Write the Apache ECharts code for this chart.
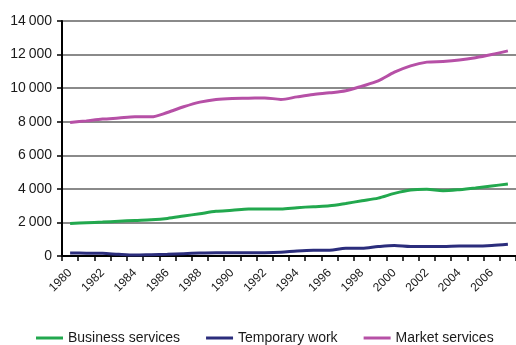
<!DOCTYPE html>
<html><head><meta charset="utf-8">
<script src="https://cdn.jsdelivr.net/npm/echarts@6/dist/echarts.min.js"></script>
<style>html,body{margin:0;padding:0;background:#fff}#c{width:516px;height:345px}</style>
</head><body><div id="c"></div>
<script>
const years = ['1980','1981','1982','1983','1984','1985','1986','1987','1988','1989','1990','1991','1992','1993','1994','1995','1996','1997','1998','1999','2000','2001','2002','2003','2004','2005','2006','2007'];
const businessServices = [1940,1980,2020,2070,2120,2160,2240,2380,2520,2660,2720,2800,2800,2800,2880,2940,2990,3130,3290,3450,3730,3930,3970,3890,3950,4050,4170,4290];
const temporaryWork = [180,170,160,100,60,80,100,140,180,200,200,200,200,220,300,340,340,460,460,560,620,560,560,560,600,600,630,700];
const marketServices = [7950,8050,8155,8220,8290,8290,8550,8890,9167,9330,9390,9400,9420,9330,9480,9620,9720,9840,10120,10430,10950,11330,11550,11590,11670,11810,12000,12220];
const yTicks = {min: 0, max: 14000, interval: 2000};

const chart = echarts.init(document.getElementById('c'), null, {renderer: 'canvas'});
const font = 'Liberation Sans, Arial, sans-serif';
function fmt(v){ const s = String(v); return s.length > 3 ? s.slice(0, s.length-3) + '\u2009' + s.slice(-3) : s; }
const mk = (name, data, color) => ({
  name, type: 'line', data, smooth: 0.3, symbol: 'none',
  lineStyle: {color, width: 3}, itemStyle: {color}
});
chart.setOption({
  animation: false,
  grid: {left: 62, top: 21, right: -3, bottom: 89, containLabel: false},
  legend: {
    left: 31, top: 326, icon: 'rect', itemWidth: 27, itemHeight: 3, itemGap: 26,
    textStyle: {fontFamily: font, fontSize: 14, color: '#1a1a1a'},
    data: ['Business services', 'Temporary work', 'Market services']
  },
  xAxis: {
    type: 'category', data: years, boundaryGap: true,
    axisLine: {lineStyle: {color: '#000', width: 2}},
    axisTick: {show: true, length: 5, lineStyle: {color: '#000', width: 1.5}, interval: 0},
    axisLabel: {rotate: 45, interval: 1, margin: 15, fontFamily: font, fontSize: 12, color: '#1a1a1a'},
    splitLine: {show: false}
  },
  yAxis: {
    type: 'value', min: yTicks.min, max: yTicks.max, interval: yTicks.interval,
    axisLine: {show: true, lineStyle: {color: '#000', width: 2}},
    axisTick: {show: true, length: 5, lineStyle: {color: '#000', width: 1.5}},
    axisLabel: {formatter: fmt, margin: 10, fontFamily: font, fontSize: 14, color: '#1a1a1a'},
    splitLine: {lineStyle: {color: '#8a8a8a', width: 2}}
  },
  series: [
    mk('Business services', businessServices, '#22a84e'),
    mk('Temporary work', temporaryWork, '#2b2d7c'),
    mk('Market services', marketServices, '#b650a6')
  ]
});
</script></body></html>
